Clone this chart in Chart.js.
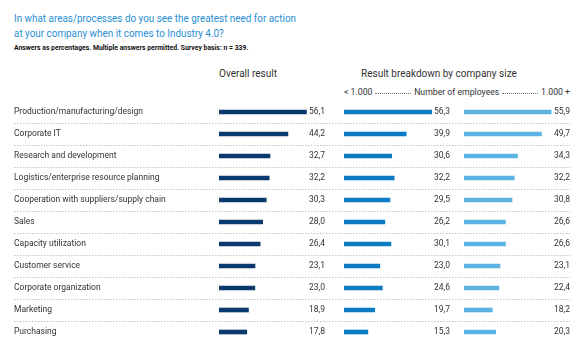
<!DOCTYPE html>
<html>
<head>
<meta charset="utf-8">
<script src="https://cdn.jsdelivr.net/npm/chart.js@4"></script>
<style>
    body { margin: 0; background: #fff; font-family: 'Roboto', sans-serif; color: #333; }
    #page { position: relative; width: 584px; height: 349px; overflow: hidden; }
    .title { position: absolute; left: 14px; top: 10.5px; font-size: 11.5px; line-height: 15.5px; color: #2a8ed4; white-space: nowrap; transform: scaleX(0.86); transform-origin: left top; }
    .subtitle { position: absolute; left: 14px; top: 42.5px; font-size: 7.6px; font-weight: bold; color: #111; white-space: nowrap; transform: scaleX(0.9); transform-origin: left top; }
    .head { position: absolute; font-size: 10px; color: #333; white-space: nowrap; }
    .size-row { position: absolute; left: 344px; width: 226px; top: 87px; display: flex; align-items: center; font-size: 8.7px; color: #333; white-space: nowrap; }
    .size-row .dots { flex: 1; border-top: 1px dotted #777; margin: 0 3px; position: relative; top: 1px; }
    .chart-box { position: absolute; top: 101px; height: 242px; }
</style>
</head>
<body>
<div id="page">
    <div class="title">In what areas/processes do you see the greatest need for action<br>at your company when it comes to Industry 4.0?</div>
    <div class="subtitle">Answers as percentages. Multiple answers permitted. Survey basis: n = 339.</div>
    <div class="head" style="left:219px; top:68px;">Overall result</div>
    <div class="head" style="left:361px; top:68px;">Result breakdown by company size</div>
    <div class="size-row"><span>&lt; 1.000</span><span class="dots"></span><span>Number of employees</span><span class="dots"></span><span>1.000 +</span></div>
    <div class="chart-box" style="left:0; width:584px;"><canvas id="overallChart"></canvas></div>
    <div class="chart-box" style="left:344px; width:106px;"><canvas id="smallChart"></canvas></div>
    <div class="chart-box" style="left:464px; width:106px;"><canvas id="largeChart"></canvas></div>
</div>
<script>
// --- Survey data ---
const categories = [
    'Production/manufacturing/design',
    'Corporate IT',
    'Research and development',
    'Logistics/enterprise resource planning',
    'Cooperation with suppliers/supply chain',
    'Sales',
    'Capacity utilization',
    'Customer service',
    'Corporate organization',
    'Marketing',
    'Purchasing'
];
const overallValues = [56.1, 44.2, 32.7, 32.2, 30.3, 28.0, 26.4, 23.1, 23.0, 18.9, 17.8];
const smallCompanyValues = [56.3, 39.9, 30.6, 32.2, 29.5, 26.2, 30.1, 23.0, 24.6, 19.7, 15.3];
const largeCompanyValues = [55.9, 49.7, 34.3, 32.2, 30.8, 26.6, 26.6, 23.1, 22.4, 18.2, 20.3];

const xMax = 68;
const panelWidth = 106;

Chart.defaults.font.family = "'Roboto', sans-serif";
Chart.defaults.color = '#333';

// value printed right-aligned at the end of each panel, German decimal comma
const valueLabels = {
    id: 'valueLabels',
    afterDatasetsDraw(chart) {
        const ctx = chart.ctx;
        const meta = chart.getDatasetMeta(0);
        const data = chart.data.datasets[0].data;
        ctx.save();
        ctx.font = "8.5px 'Roboto', sans-serif";
        ctx.fillStyle = '#333';
        ctx.textAlign = 'right';
        ctx.textBaseline = 'middle';
        meta.data.forEach((bar, i) => {
            ctx.fillText(data[i].toFixed(1).replace('.', ','), chart.chartArea.right, bar.y);
        });
        ctx.restore();
    }
};

// dotted separators between rows, across the whole table
const rowSeparators = {
    id: 'rowSeparators',
    beforeDatasetsDraw(chart) {
        const ctx = chart.ctx;
        const y = chart.scales.y;
        ctx.save();
        ctx.strokeStyle = '#c4c4c4';
        ctx.lineWidth = 1;
        ctx.setLineDash([1.5, 1.5]);
        for (let i = 0; i < categories.length - 1; i++) {
            const py = Math.round((y.getPixelForValue(i) + y.getPixelForValue(i + 1)) / 2) + 0.5;
            ctx.beginPath();
            ctx.moveTo(14, py);
            ctx.lineTo(570, py);
            ctx.stroke();
        }
        ctx.restore();
    }
};

function makePanel(canvasId, values, color, withLabels) {
    return new Chart(document.getElementById(canvasId), {
        type: 'bar',
        data: {
            labels: categories,
            datasets: [{ data: values, backgroundColor: color, barThickness: 4 }]
        },
        options: {
            indexAxis: 'y',
            responsive: true,
            maintainAspectRatio: false,
            animation: false,
            events: [],
            layout: { padding: withLabels ? { left: 14, right: 584 - 219 - panelWidth, top: 0, bottom: 0 } : 0 },
            plugins: { legend: { display: false }, tooltip: { enabled: false } },
            scales: {
                x: { display: false, min: 0, max: xMax },
                y: {
                    display: withLabels,
                    grid: { display: false },
                    border: { display: false },
                    ticks: { crossAlign: 'far', padding: 0, font: { size: 8.5 }, color: '#333' },
                    afterFit(scale) {
                        // labels column runs up to the first bar panel, rows fill the full height
                        scale.width = withLabels ? 219 - 14 : 0;
                        scale.paddingTop = 0;
                        scale.paddingBottom = 0;
                    }
                }
            }
        },
        plugins: withLabels ? [rowSeparators, valueLabels] : [valueLabels]
    });
}

makePanel('overallChart', overallValues, '#0c3a6f', true);
makePanel('smallChart', smallCompanyValues, '#0b7cc3', false);
makePanel('largeChart', largeCompanyValues, '#5cb2e2', false);
</script>
</body>
</html>
